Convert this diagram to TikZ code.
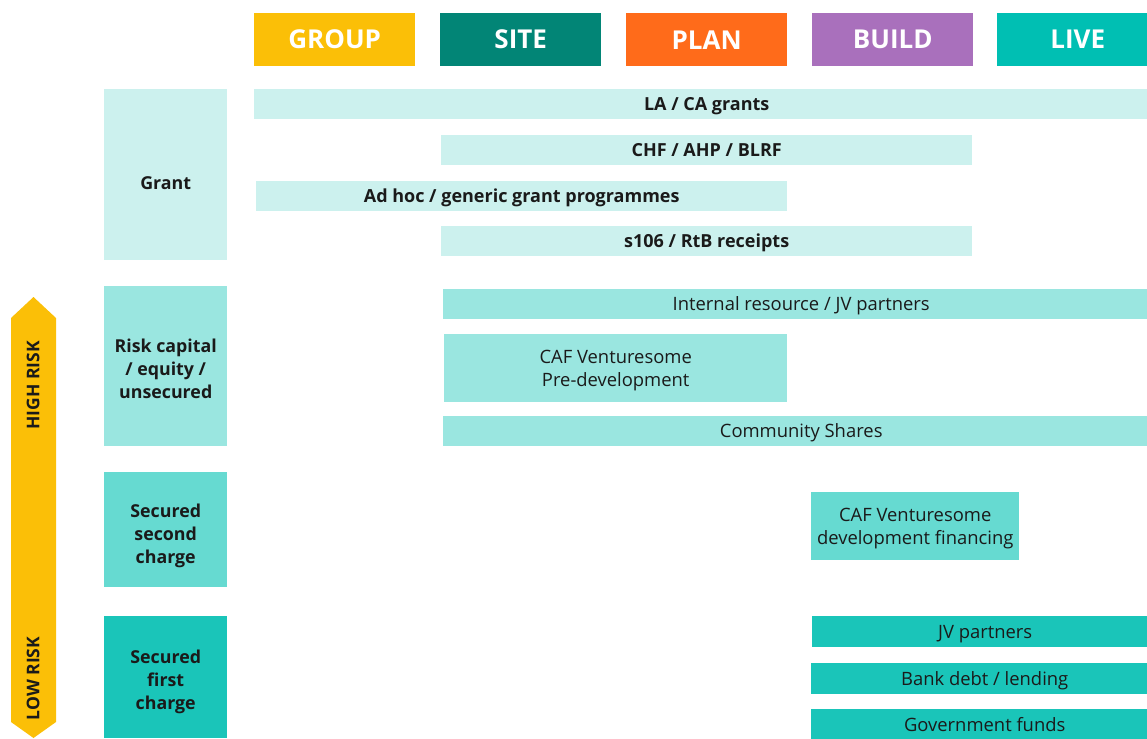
\documentclass[tikz,border=0pt]{standalone}
\usepackage{fontspec}
\setmainfont{Open Sans}
\usetikzlibrary{positioning}
\definecolor{groupc}{HTML}{FBBF07}
\definecolor{sitec}{HTML}{028576}
\definecolor{planc}{HTML}{FF6B1A}
\definecolor{buildc}{HTML}{A970BC}
\definecolor{livec}{HTML}{00BFB3}
\definecolor{grantc}{HTML}{CCF1EE}
\definecolor{riskc}{HTML}{9AE6E0}
\definecolor{secondc}{HTML}{66DAD1}
\definecolor{firstc}{HTML}{1AC5B9}
\definecolor{inkc}{HTML}{1A1A1A}

\begin{document}
\begin{tikzpicture}[
    x=1pt, y=-1pt,
    stage/.style={anchor=north west, minimum width=161pt, minimum height=53pt, inner sep=0pt,
      text=white, font=\fontsize{26}{26}\selectfont\bfseries},
    kind/.style={anchor=north west, minimum width=123pt, inner sep=0pt},
    kindtext/.style={inner sep=0pt, text=inkc, align=center,
      font=\fontsize{17.8}{23}\selectfont\bfseries},
    bar/.style={anchor=north west, inner sep=0pt, text=inkc, align=center,
      text height=17pt, text depth=4pt, font=\fontsize{18.4}{23}\selectfont},
    boldbar/.style={bar, fill=grantc, minimum height=30pt, font=\fontsize{18}{23}\selectfont\bfseries},
    tallbar/.style={anchor=north west, inner sep=0pt, text=inkc, align=center, text depth=0pt,
      minimum height=68pt, font=\fontsize{18.4}{23}\selectfont},
    risklabel/.style={rotate=90, text=inkc, font=\fontsize{17.5}{17.5}\selectfont\bfseries},
    ]
  \useasboundingbox (0,0) rectangle (1147,738);

  % stages (LIVE runs past the page edge)
  \node[stage, fill=groupc] (group) at (254,13) {GROUP};
  \node[stage, fill=sitec] (site) at (440,13) {SITE};
  \node[stage, fill=planc] (plan) at (626,13) {PLAN};
  \node[stage, fill=buildc] (build) at (812,13) {BUILD};
  \node[stage, fill=livec] (live) at (997,13) {LIVE};

  % kinds of finance
  \node[kind, fill=grantc, minimum height=171pt,
    label={[kindtext, yshift=-8pt]center:Grant}] (grant) at (104,89) {};
  \node[kind, fill=riskc, minimum height=160pt,
    label={[kindtext, yshift=-3pt]center:Risk capital\\/ equity /\\unsecured}] (risk) at (104,286) {};
  \node[kind, fill=secondc, minimum height=115pt,
    label={[kindtext, yshift=-6pt]center:Secured\\second\\charge}] (second) at (104,472) {};
  \node[kind, fill=firstc, minimum height=122pt,
    label={[kindtext, yshift=-5pt]center:Secured\\first\\charge}] (first) at (104,616) {};

  % risk arrow
  \fill[groupc] (11,318) -- (33.5,297) -- (56,318) -- (56,722) -- (33.5,738) -- (11,722) -- cycle;
  \node[risklabel] (high) at (33,385.5) {HIGH RISK};
  \node[risklabel] (low) at (33,678.5) {LOW RISK};

  % grants
  \node[boldbar, minimum width=905pt] (lagrants) at (254,89) {LA / CA grants};
  \node[boldbar, minimum width=531pt] (chf) at (441,135) {CHF / AHP / BLRF};
  \node[boldbar, minimum width=531pt] (adhoc) at (256,181) {Ad hoc / generic grant programmes};
  \node[boldbar, minimum width=531pt] (receipts) at (441,226) {s106 / RtB receipts};

  % risk capital
  \node[bar, fill=riskc, minimum width=716pt, minimum height=30pt] (internal) at (443,289) {Internal resource / JV partners};
  \node[tallbar, fill=riskc, minimum width=343pt] (predev) at (444,334) {CAF Venturesome\\Pre-development};
  \node[bar, fill=riskc, minimum width=716pt, minimum height=30pt] (shares) at (443,416) {Community Shares};

  % secured
  \node[tallbar, fill=secondc, minimum width=208pt] (devfin) at (811,492) {CAF Venturesome\\development financing};
  \node[bar, fill=firstc, minimum width=346pt, minimum height=31pt] (jv) at (812,616) {JV partners};
  \node[bar, fill=firstc, minimum width=347pt, minimum height=31pt] (bank) at (811,663) {Bank debt / lending};
  \node[bar, fill=firstc, minimum width=347pt, minimum height=31pt] (gov) at (811,709) {Government funds};
\end{tikzpicture}
\end{document}
